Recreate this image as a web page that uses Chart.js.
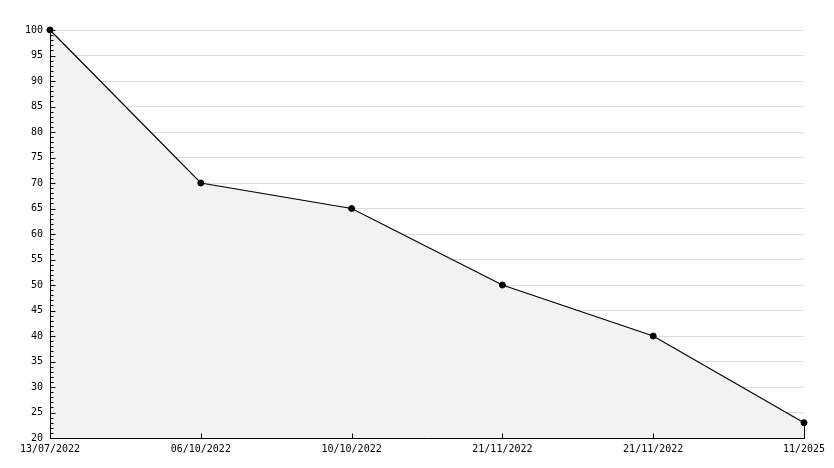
<!DOCTYPE html>
<html>
<head>
<meta charset="utf-8">
<script src="https://cdn.jsdelivr.net/npm/chart.js@4/dist/chart.umd.min.js"></script>
<style>
  html, body { margin: 0; padding: 0; background: #fff; }
  #wrap { width: 834px; height: 468px; }
</style>
</head>
<body>
<div id="wrap"><canvas id="progressChart" width="834" height="468"></canvas></div>
<script>
// chart data
const dates = ['13/07/2022', '06/10/2022', '10/10/2022', '21/11/2022', '21/11/2022', '11/2025'];
const scores = [100, 70, 65, 50, 40, 23];
const yMin = 20;
const yMax = 100;
const yStep = 5;

// draws the axis lines and inward tick marks like the old bitmap chart
const axisDecor = {
    id: 'axisDecor',
    afterDatasetsDraw(chart) {
        const ctx = chart.ctx;
        const area = chart.chartArea;
        const x = chart.scales.x;
        const y = chart.scales.y;
        const left = Math.round(area.left) + 0.5;
        const bottom = Math.round(area.bottom) + 0.5;

        ctx.save();
        ctx.strokeStyle = '#000';
        ctx.lineWidth = 1;
        ctx.beginPath();

        // minor + major ticks on y
        for (let v = yMin; v <= yMax; v++) {
            const py = Math.round(y.getPixelForValue(v)) + 0.5;
            const len = (v % yStep === 0) ? 5 : 3;
            ctx.moveTo(left, py);
            ctx.lineTo(left + len, py);
        }

        // category ticks on x, pointing up into the plot
        dates.forEach((d, i) => {
            const px = Math.round(x.getPixelForValue(i)) + 0.5;
            ctx.moveTo(px, bottom);
            ctx.lineTo(px, bottom - 5);
        });

        // closing edge of the filled area
        const meta = chart.getDatasetMeta(0);
        const last = meta.data[meta.data.length - 1];
        const lx = Math.round(last.x) + 0.5;
        ctx.moveTo(lx, last.y);
        ctx.lineTo(lx, bottom);

        // axis lines
        ctx.moveTo(left, Math.round(area.top));
        ctx.lineTo(left, bottom);
        ctx.lineTo(Math.round(area.right) + 1, bottom);
        ctx.stroke();
        ctx.restore();
    }
};

document.addEventListener('DOMContentLoaded', function () {
    const ctx = document.getElementById('progressChart').getContext('2d');
    new Chart(ctx, {
        type: 'line',
        data: {
            labels: dates,
            datasets: [
                {
                    data: scores,
                    borderColor: '#000',
                    borderWidth: 1.2,
                    backgroundColor: '#f2f2f2',
                    fill: 'start',
                    tension: 0,
                    clip: false,
                    pointRadius: 3,
                    pointStyle: 'circle',
                    pointBackgroundColor: '#000',
                    pointBorderColor: '#000',
                    pointBorderWidth: 1
                }
            ]
        },
        options: {
            responsive: false,
            animation: false,
            devicePixelRatio: 1,
            layout: {
                padding: { top: 30, right: 30, left: 0, bottom: 0 }
            },
            plugins: {
                legend: { display: false },
                tooltip: { enabled: false }
            },
            scales: {
                x: {
                    offset: false,
                    border: { display: false },
                    grid: { display: false, drawTicks: false },
                    ticks: {
                        color: '#000',
                        font: { family: 'DejaVu Sans Mono', size: 10 },
                        padding: 5,
                        maxRotation: 0,
                        autoSkip: false
                    },
                    afterFit: (scale) => { scale.height = 30; }
                },
                y: {
                    min: yMin,
                    max: yMax,
                    border: { display: false },
                    grid: {
                        color: '#dcdcdc',
                        drawTicks: false
                    },
                    ticks: {
                        stepSize: yStep,
                        color: '#000',
                        font: { family: 'DejaVu Sans Mono', size: 10 },
                        padding: 7
                    },
                    afterFit: (scale) => { scale.width = 50; }
                }
            }
        },
        plugins: [axisDecor]
    });
});
</script>
</body>
</html>
